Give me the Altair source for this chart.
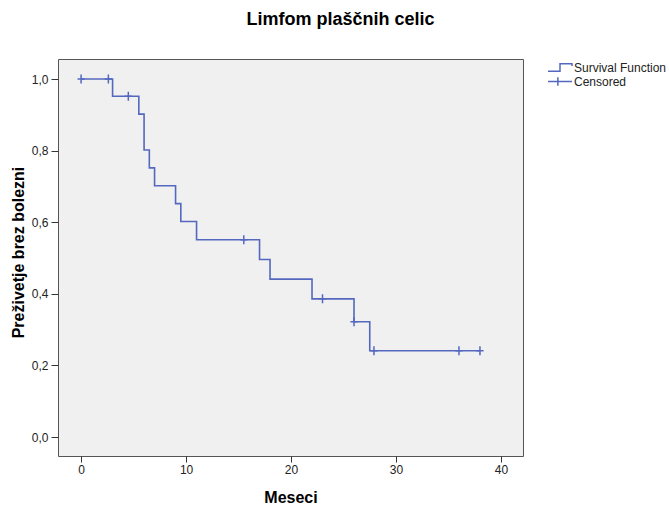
import altair as alt
import pandas as pd

# Step function (Kaplan-Meier survival estimate)
step_times = [0, 3.0, 5.5, 6.0, 6.5, 7.0, 9.0, 9.5, 11.0, 17.0, 18.0, 22.0, 26.0, 27.5, 38.0]
step_surv = [1.0, 0.952, 0.902, 0.802, 0.752, 0.702, 0.652, 0.602, 0.551, 0.496, 0.441, 0.386, 0.322, 0.241, 0.241]

# Censored observations
cens_times = [0, 2.6, 4.5, 15.5, 23.0, 26.0, 27.9, 36.0, 38.0]
cens_surv = [1.0, 1.0, 0.952, 0.551, 0.386, 0.322, 0.241, 0.241, 0.241]

series_names = ["Survival Function", "Censored"]
y_ticks = [0.0, 0.2, 0.4, 0.6, 0.8, 1.0]
x_ticks = [0, 10, 20, 30, 40]

BLUE = "#5468bf"
FONT = "Liberation Sans"

step_df = pd.DataFrame({"t": step_times, "s": step_surv})
cens_df = pd.DataFrame({"t": cens_times, "s": cens_surv})
legend_df = pd.DataFrame({"series": series_names})

x_scale = alt.Scale(domain=[-2.2, 42.1], nice=False, zero=False)
y_scale = alt.Scale(domain=[-0.053, 1.056], nice=False, zero=False)

x_axis = alt.Axis(values=x_ticks, title="Meseci", grid=False, domain=False,
                  tickSize=6, tickColor="#333333", labelFontSize=12, labelColor="#222222",
                  labelPadding=2, labelFont=FONT, titleFont=FONT, titleFontSize=16,
                  titleFontWeight="bold", titleColor="#000000", titlePadding=14)
y_axis = alt.Axis(values=y_ticks, title="Preživetje brez bolezni", grid=False, domain=False,
                  tickSize=7, tickColor="#333333", labelFontSize=12, labelColor="#222222",
                  labelPadding=3, labelFont=FONT, titleFont=FONT, titleFontSize=16,
                  titleFontWeight="bold", titleColor="#000000",
                  labelExpr="replace(format(datum.value, '.1f'), '.', ',')",
                  titleX=-40, titleY=193, titleAlign="center", titleBaseline="middle",
                  titleAngle=270)

line = alt.Chart(step_df).mark_line(interpolate="step-after", color=BLUE, strokeWidth=1.6).encode(
    x=alt.X("t:Q", scale=x_scale, axis=x_axis),
    y=alt.Y("s:Q", scale=y_scale, axis=y_axis),
)

points = alt.Chart(cens_df).mark_point(
    shape="M-0.8,0H0.8M0,-1V1", size=80, filled=False, strokeWidth=1.5, opacity=1, color=BLUE
).encode(
    x="t:Q",
    y="s:Q",
)

step_path = "M-2.4,0.76H0V-0.76H2.4V-0.3"
plus_path = "M-2.4,0H2.4M-0.43,-0.86V0.86"

legend_layer = alt.Chart(legend_df).mark_point(
    filled=False, opacity=0, color=BLUE, strokeWidth=1.5
).encode(
    shape=alt.Shape("series:N", scale=alt.Scale(domain=series_names, range=[step_path, plus_path]),
                    legend=alt.Legend(title=None, orient="none", legendX=496, legendY=2.5,
                                      symbolSize=100, symbolStrokeWidth=1.5,
                                      symbolStrokeColor=BLUE, symbolOpacity=1,
                                      symbolFillColor="transparent", labelOffset=8,
                                      labelFontSize=12, labelFont=FONT, labelColor="#222222",
                                      padding=0, rowPadding=-1)),
)

chart = alt.layer(line, points, legend_layer).properties(
    width=465, height=397,
    padding={"left": 58, "top": 59, "right": 146, "bottom": 52},
    autosize=alt.AutoSizeParams(type="none"),
    title=alt.TitleParams("Limfom plaščnih celic", fontSize=18, font=FONT, fontWeight="bold",
                          anchor="middle", dx=50, offset=30, color="#000000"),
    background="white",
    view=alt.ViewBackground(fill="#f0f0f0", stroke="#555555", strokeWidth=1),
).configure_view(
    fill="#f0f0f0", stroke="#555555", strokeWidth=1
)

chart.save("out.html", embed_options={"renderer": "svg", "actions": False})
